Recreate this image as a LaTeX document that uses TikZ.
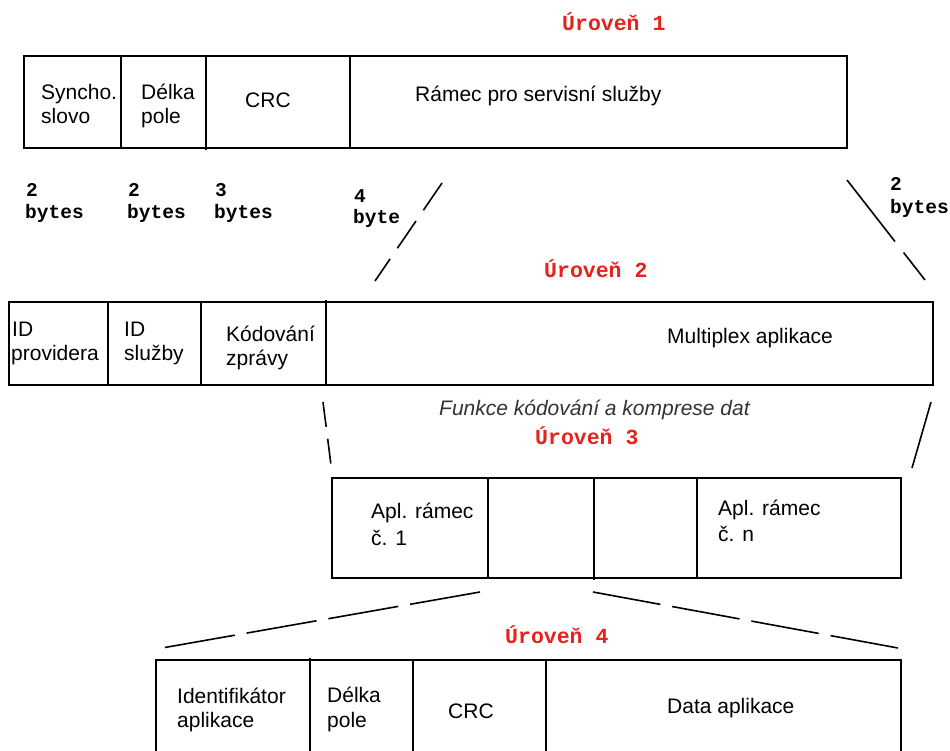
\documentclass[tikz,border=0pt]{standalone}
\usepackage{fontspec}
\setmainfont{Liberation Sans}
\setmonofont{Liberation Mono}
\definecolor{lvlred}{HTML}{E5231D}
\begin{document}
\begin{tikzpicture}[x=1pt,y=-1pt,
  frame/.style={line width=1.8pt},
  lbl/.style={anchor=base west, inner sep=0pt, font=\fontsize{21}{24}\selectfont},
  ital/.style={anchor=base west, inner sep=0pt, font=\fontsize{21}{24}\selectfont\itshape, text=black!80},
  lvl/.style={anchor=base west, inner sep=0pt, font=\fontsize{21.5}{24}\selectfont\ttfamily\bfseries, text=lvlred},
  byt/.style={anchor=base west, inner sep=0pt, font=\fontsize{19.5}{22}\selectfont\ttfamily\bfseries},
  zoomline/.style={line width=1.6pt}]
\useasboundingbox (0,0) rectangle (950,751);
\clip (0,0) rectangle (950,751);

% ---------- Level 1 ----------
\node[lvl] (lvl1) at (562,31) {Úroveň 1};
\draw[frame] (24,56) rectangle (847,148);
\draw[frame] (121,56) -- (121,149) (206,56) -- (206,150) (350,56) -- (350,148);
\node[lbl] (s1a) at (41,100) {Syncho.};
\node[lbl] (s1b) at (41,124) {slovo};
\node[lbl] (d1a) at (141,100) {Délka};
\node[lbl] (d1b) at (141,124) {pole};
\node[lbl] (c1) at (245,108) {CRC};
\node[lbl] (r1) at (415,102) {Rámec pro servisní služby};

% byte labels
\node[byt] (b1a) at (26,197) {2};
\node[byt] (b1b) at (25,219) {bytes};
\node[byt] (b2a) at (128,197) {2};
\node[byt] (b2b) at (127,219) {bytes};
\node[byt] (b3a) at (215,197) {3};
\node[byt] (b3b) at (214,219) {bytes};
\node[byt] (b4a) at (354,203) {4};
\node[byt] (b4b) at (353,224) {byte};
\node[byt] (b5a) at (890,191) {2};
\node[byt] (b5b) at (890,214) {bytes};

% zoom lines level 1 -> 2
\coordinate (z1a) at (442,183);
\coordinate (z1b) at (375,281);
\coordinate (z1c) at (847,180);
\coordinate (z1d) at (925,280);
\draw[zoomline, dash pattern=on 33pt off 13pt] (z1a) -- (z1b);
\draw[zoomline, dash pattern=on 78pt off 14pt] (z1c) -- (z1d);

% ---------- Level 2 ----------
\node[lvl] (lvl2) at (544,277) {Úroveň 2};
\draw[frame] (9,302) rectangle (933,385);
\draw[frame] (108,302) -- (108,385) (201,302) -- (201,385) (326,300) -- (326,385);
\node[lbl] (i2a) at (12,336) {ID};
\node[lbl] (i2b) at (11,360) {providera};
\node[lbl] (j2a) at (124,336) {ID};
\node[lbl] (j2b) at (124,360) {služby};
\node[lbl] (k2a) at (226,341) {Kódování};
\node[lbl] (k2b) at (226,365) {zprávy};
\node[lbl] (m2) at (667,343) {Multiplex aplikace};

\node[ital] (fk) at (439,415) {Funkce kódování a komprese dat};
\node[lvl] (lvl3) at (535,444) {Úroveň 3};

% zoom lines level 2 -> 3
\coordinate (z2a) at (323,402);
\coordinate (z2b) at (331,465);
\coordinate (z2c) at (931,402);
\coordinate (z2d) at (912,468);
\draw[zoomline, dash pattern=on 25pt off 12pt] (z2a) -- (z2b);
\draw[zoomline] (z2c) -- (z2d);

% ---------- Level 3 ----------
\draw[frame] (332,478) rectangle (901,578);
\draw[frame] (488,478) -- (488,578) (594,478) -- (594,580) (697,478) -- (697,578);
\node[lbl] (a3a) at (371,518) {Apl. rámec};
\node[lbl] (a3b) at (371,545) {č. 1};
\node[lbl] (n3a) at (718,515) {Apl. rámec};
\node[lbl] (n3b) at (718,541) {č. n};

% zoom lines level 3 -> 4
\coordinate (z3a) at (480,592);
\coordinate (z3b) at (162,648);
\coordinate (z3c) at (593,592);
\coordinate (z3d) at (898,648);
\draw[zoomline, dash pattern=on 71pt off 12pt] (z3a) -- (z3b);
\draw[zoomline, dash pattern=on 68.5pt off 12pt] (z3c) -- (z3d);

% ---------- Level 4 ----------
\node[lvl] (lvl4) at (505,643) {Úroveň 4};
\draw[frame] (156,660) rectangle (901,790);
\draw[frame] (310,658) -- (310,790) (413,660) -- (413,790) (546,660) -- (546,790);
\node[lbl] (id4a) at (177,703) {Identifikátor};
\node[lbl] (id4b) at (177,727) {aplikace};
\node[lbl] (d4a) at (327,702) {Délka};
\node[lbl] (d4b) at (327,727) {pole};
\node[lbl] (c4) at (448,718) {CRC};
\node[lbl] (da4) at (667,713) {Data aplikace};
\end{tikzpicture}
\end{document}
